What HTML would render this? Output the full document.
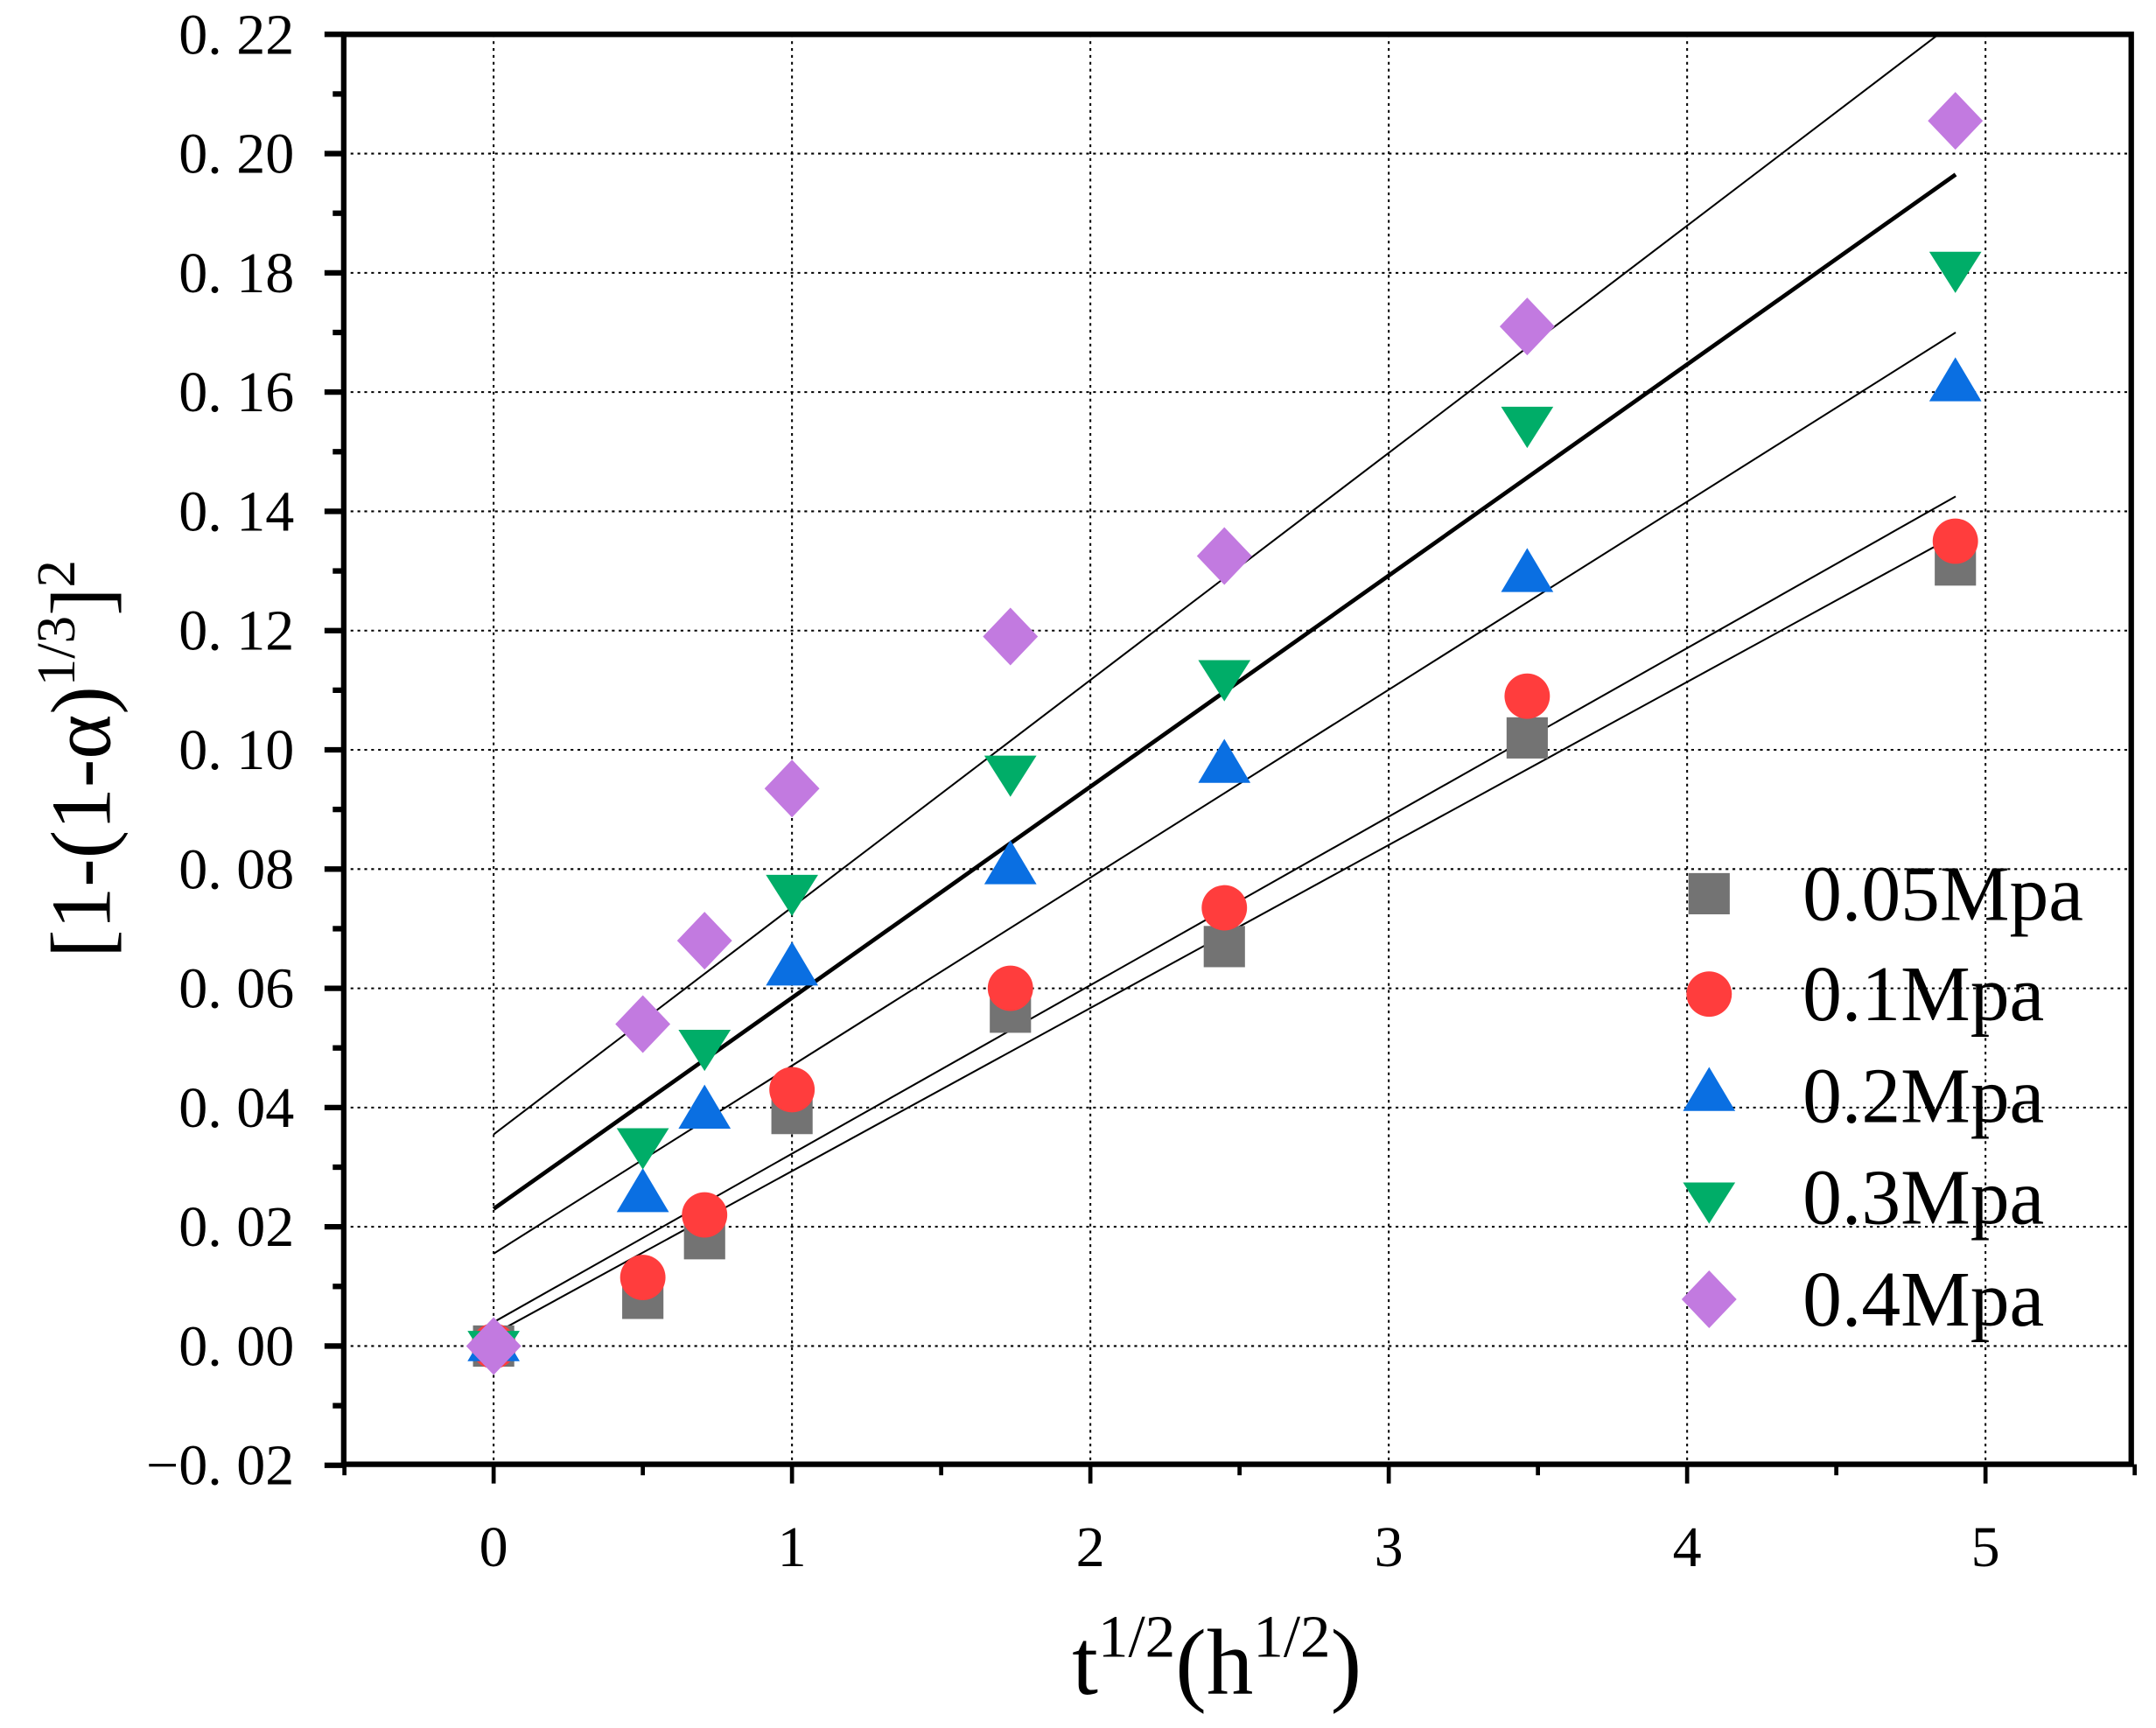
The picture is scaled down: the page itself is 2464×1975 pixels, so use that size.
<!DOCTYPE html>
<html><head><meta charset="utf-8"><style>
html,body{margin:0;padding:0;background:#fff;}
svg{display:block;}
text{font-family:"Liberation Serif",serif;fill:#000;}
</style></head><body>
<svg id="s" width="2464" height="1975" viewBox="0 0 1568 1256.8" preserveAspectRatio="none" xmlns="http://www.w3.org/2000/svg">
<g id="grid" stroke="#000" stroke-width="1.3" stroke-dasharray="2,3"></g>
<g id="lines" stroke="#000" fill="none"></g>
<g id="pts"></g>
<g id="axes"></g>
<g id="leg"></g>
<text x="0" y="0" font-size="62" transform="translate(80,552) rotate(-90)" text-anchor="middle">[1-(1-α)<tspan dy="-26" font-size="40">1/3</tspan><tspan dy="26">]</tspan><tspan dy="-26" font-size="40">2</tspan></text>
<text x="885" y="1232" font-size="68" text-anchor="middle">t<tspan dy="-27" font-size="44">1/2</tspan><tspan dy="27">(h</tspan><tspan dy="-27" font-size="44">1/2</tspan><tspan dy="27">)</tspan></text>
</svg>
<script>
const NS="http://www.w3.org/2000/svg";
function el(p,t,a,txt){const e=document.createElementNS(NS,t);for(const k in a)e.setAttribute(k,a[k]);if(txt!==undefined)e.textContent=txt;p.appendChild(e);return e;}
const L=250,R=1550,T=25,B=1065;
const X=x=>359+217*x, Y=y=>979-4336.4*y;
const grid=document.getElementById('grid'),lines=document.getElementById('lines'),pts=document.getElementById('pts'),axes=document.getElementById('axes'),leg=document.getElementById('leg');
for(let i=0;i<=5;i++)el(grid,'line',{x1:X(i),x2:X(i),y1:T,y2:B});
for(let i=0;i<=11;i++){const y=Y(i*0.02);el(grid,'line',{x1:L,x2:R,y1:y,y2:y});}
const fits=[[0.002,0.136,1.3],[0.004,0.1425,1.3],[0.0155,0.170,1.3],[0.023,0.1965,3],[0.0355,0.2222,1.3]];
fits.forEach(f=>{let x2=4.9,y2=f[1];if(y2>0.22){x2=4.9*(0.22-f[0])/(f[1]-f[0]);y2=0.22;}
el(lines,'line',{x1:X(0),y1:Y(f[0]),x2:X(x2),y2:Y(y2),'stroke-width':f[2]});});
const xs=[0,0.5,0.707,1,1.732,2.449,3.464,4.899];
const data=[
[[0,0.008,0.018,0.039,0.056,0.067,0.102,0.131],'sq','#737373'],
[[0,0.0115,0.022,0.043,0.060,0.0735,0.109,0.135],'ci','#ff3d3d'],
[[0,0.025,0.039,0.063,0.080,0.097,0.129,0.161],'tu','#0a6fe2'],
[[0,0.034,0.0505,0.0765,0.0965,0.1125,0.155,0.181],'td','#00ad68'],
[[0,0.054,0.068,0.0935,0.119,0.1325,0.171,0.2055],'di','#c27ae0']];
function mk(g,type,cx,cy,c){
 if(type==='sq')el(g,'rect',{x:cx-15,y:cy-15,width:30,height:30,fill:c});
 else if(type==='ci')el(g,'circle',{cx:cx,cy:cy,r:16.5,fill:c});
 else if(type==='tu')el(g,'polygon',{points:`${cx},${cy-21} ${cx+19},${cy+11} ${cx-19},${cy+11}`,fill:c});
 else if(type==='td')el(g,'polygon',{points:`${cx},${cy+19} ${cx+19},${cy-11} ${cx-19},${cy-11}`,fill:c});
 else el(g,'polygon',{points:`${cx},${cy-21} ${cx+20},${cy} ${cx},${cy+21} ${cx-20},${cy}`,fill:c});
}
data.forEach(d=>d[0].forEach((v,i)=>mk(pts,d[1],X(xs[i]),Y(v),d[2])));
el(axes,'rect',{x:L,y:T,width:R-L,height:B-T,fill:'none',stroke:'#000','stroke-width':4});
for(let i=0;i<=5;i++){el(axes,'line',{x1:X(i),x2:X(i),y1:B,y2:B+14,stroke:'#000','stroke-width':3});
 el(axes,'text',{x:X(i),y:1139,'font-size':42,'text-anchor':'middle'},String(i));}
for(let i=-1;i<=10;i++){const x=X(i+0.5);el(axes,'line',{x1:x,x2:x,y1:B,y2:B+8,stroke:'#000','stroke-width':3});}
for(let i=-1;i<=11;i++){const y=Y(i*0.02);el(axes,'line',{x1:L-14,x2:L,y1:y,y2:y,stroke:'#000','stroke-width':4});
 let v=(i*0.02);let s=(v<0?'−':'')+Math.abs(v).toFixed(2).replace('.','. ');
 el(axes,'text',{x:214,y:y+14,'font-size':42,'text-anchor':'end'},s);
 if(i<11){const y2=Y(i*0.02+0.01);el(axes,'line',{x1:L-8,x2:L,y1:y2,y2:y2,stroke:'#000','stroke-width':4});}}
const ly=[650,723,797,871,945],labs=['0.05Mpa','0.1Mpa','0.2Mpa','0.3Mpa','0.4Mpa'];
data.forEach((d,i)=>{mk(leg,d[1],1243,ly[i],d[2]);el(leg,'text',{x:1311,y:ly[i]+19,'font-size':57},labs[i]);});
</script>
</body></html>
